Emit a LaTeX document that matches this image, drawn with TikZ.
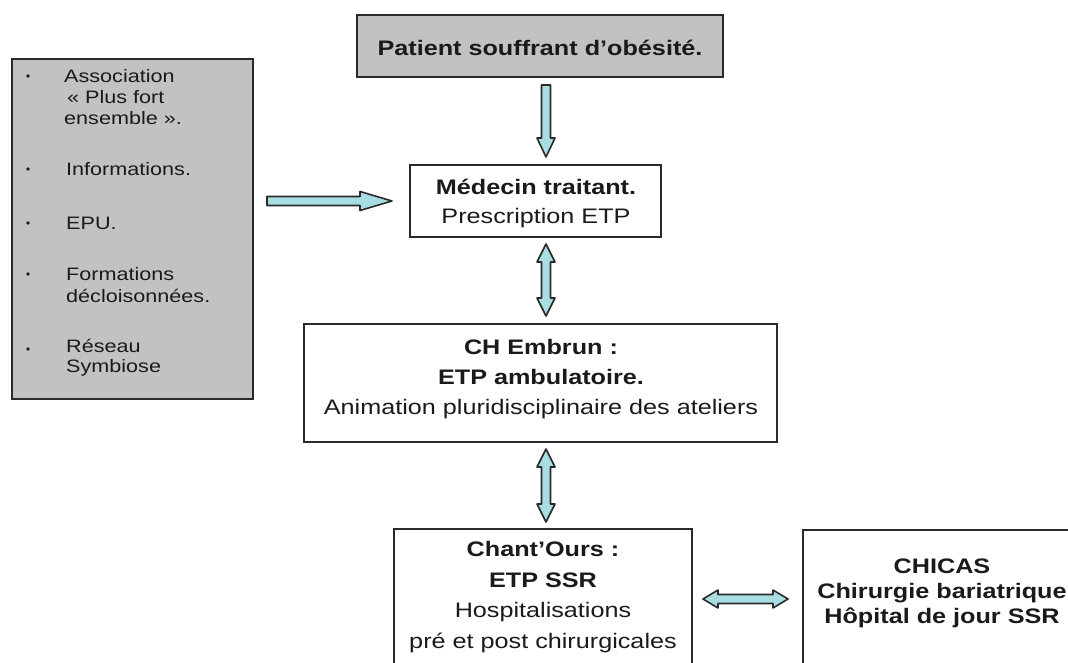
\documentclass[tikz,border=0pt]{standalone}
\usepackage{fontspec}
\setmainfont[FakeStretch=1.2]{Liberation Sans}
\usetikzlibrary{calc}
\definecolor{boxgray}{HTML}{C2C2C2}
\definecolor{arrowfill}{HTML}{A8DDE2}
\definecolor{edge}{HTML}{2A2A2A}
\definecolor{ink}{HTML}{1A1A1A}
\tikzset{
  box/.style={draw=edge, line width=2pt, inner sep=0pt, rectangle},
  graybox/.style={box, fill=boxgray},
  whitebox/.style={box, fill=white},
  mid/.style={text=ink, align=center, inner sep=0pt, font=\fontsize{21}{30}\selectfont},
  lft/.style={text=ink, align=left, anchor=west, inner sep=0pt, font=\fontsize{18}{21}\selectfont},
  bul/.style={fill=ink, circle, inner sep=0pt, minimum size=3.6pt},
  blk/.style={draw=edge, fill=arrowfill, line width=1.6pt, line join=round},
}
% vertical single arrow, tail #1 (top), tip #2 (bottom)
\newcommand\vsgl[2]{\draw[blk] let \p1=(#1), \p2=(#2) in
  (\x1-4.5pt,\y1) -- (\x1+4.5pt,\y1) -- (\x1+4.5pt,\y2+19pt) -- (\x1+9pt,\y2+19pt)
  -- (\x1,\y2) -- (\x1-9pt,\y2+19pt) -- (\x1-4.5pt,\y2+19pt) -- cycle;}
% vertical double arrow, tips #1 (top) and #2 (bottom)
\newcommand\vdbl[2]{\draw[blk] let \p1=(#1), \p2=(#2) in
  (\x1,\y1) -- (\x1+9pt,\y1-18pt) -- (\x1+4.5pt,\y1-18pt) -- (\x1+4.5pt,\y2+18pt)
  -- (\x1+9pt,\y2+18pt) -- (\x1,\y2) -- (\x1-9pt,\y2+18pt) -- (\x1-4.5pt,\y2+18pt)
  -- (\x1-4.5pt,\y1-18pt) -- (\x1-9pt,\y1-18pt) -- cycle;}
% horizontal double arrow, tips #1 (left) and #2 (right)
\newcommand\hdbl[2]{\draw[blk] let \p1=(#1), \p2=(#2) in
  (\x1,\y1) -- (\x1+15pt,\y1+9pt) -- (\x1+15pt,\y1+4.5pt) -- (\x2-15pt,\y1+4.5pt)
  -- (\x2-15pt,\y1+9pt) -- (\x2,\y1) -- (\x2-15pt,\y1-9pt) -- (\x2-15pt,\y1-4.5pt)
  -- (\x1+15pt,\y1-4.5pt) -- (\x1+15pt,\y1-9pt) -- cycle;}
% horizontal single arrow, tail #1 (left), tip #2 (right)
\newcommand\hsgl[2]{\draw[blk] let \p1=(#1), \p2=(#2) in
  (\x1,\y1+4.5pt) -- (\x2-32pt,\y1+4.5pt) -- (\x2-32pt,\y1+9.5pt) -- (\x2,\y1)
  -- (\x2-32pt,\y1-9.5pt) -- (\x2-32pt,\y1-4.5pt) -- (\x1,\y1-4.5pt) -- cycle;}
\begin{document}
\begin{tikzpicture}[x=1pt, y=-1pt]
\useasboundingbox (0,0) rectangle (1068,662);
\fill[white] (0,0) rectangle (1068,662);
\clip (0,0) rectangle (1068,662);

% boxes
\node[graybox, minimum width=241pt, minimum height=340pt] (left) at (132.5,228.5) {};
\node[graybox, minimum width=366pt, minimum height=62pt] (patient) at (540,46) {};
\node[whitebox, minimum width=251pt, minimum height=72pt] (medecin) at (535.5,201) {};
\node[whitebox, minimum width=473pt, minimum height=118pt] (embrun) at (540.5,383) {};
\node[whitebox, minimum width=298pt, minimum height=171pt] (chantours) at (543,614.5) {};
\node[whitebox, minimum width=297pt, minimum height=170pt] (chicas) at (951.5,615) {};

% texts
\node[mid] (patientT) at (540,48) {\textbf{Patient souffrant d’obésité.}};
\node[mid, font=\fontsize{21}{29}\selectfont] (medecinT) at (536,203) {\textbf{Médecin traitant.}\\Prescription ETP};
\node[mid] (embrunT) at (541,379) {\textbf{CH Embrun :}\\\textbf{ETP ambulatoire.}\\Animation pluridisciplinaire des ateliers};
\node[mid, font=\fontsize{21}{30.5}\selectfont] (chantoursT) at (543,597) {\textbf{Chant’Ours :}\\\textbf{ETP SSR}\\Hospitalisations\\pré et post chirurgicales};
\node[mid, font=\fontsize{21}{25}\selectfont] (chicasT) at (942,593) {\textbf{CHICAS}\\\textbf{Chirurgie bariatrique}\\\textbf{Hôpital de jour SSR}};

% left list
\node[lft] (l1) at (64,97) {Association\\\,« Plus fort\\ensemble ».};
\node[lft] (l2) at (66,169) {Informations.};
\node[lft] (l3) at (66,223) {EPU.};
\node[lft, font=\fontsize{18}{22}\selectfont] (l4) at (66,285) {Formations\\décloisonnées.};
\node[lft, font=\fontsize{18}{20}\selectfont] (l5) at (66,358) {Réseau\\Symbiose};
\node[bul] (b1) at (28,76) {};
\node[bul] (b2) at (28,169) {};
\node[bul] (b3) at (28,223) {};
\node[bul] (b4) at (28,274) {};
\node[bul] (b5) at (28,349) {};

% arrow end points
\coordinate (a1s) at (546,85);  \coordinate (a1e) at (546,157);
\coordinate (a2s) at (546,244); \coordinate (a2e) at (546,316);
\coordinate (a3s) at (546,449); \coordinate (a3e) at (546,522);
\coordinate (a4s) at (703,599); \coordinate (a4e) at (788,599);
\coordinate (a5s) at (267,201); \coordinate (a5e) at (392,201);

\vsgl{a1s}{a1e}
\vdbl{a2s}{a2e}
\vdbl{a3s}{a3e}
\hdbl{a4s}{a4e}
\hsgl{a5s}{a5e}
\end{tikzpicture}
\end{document}
